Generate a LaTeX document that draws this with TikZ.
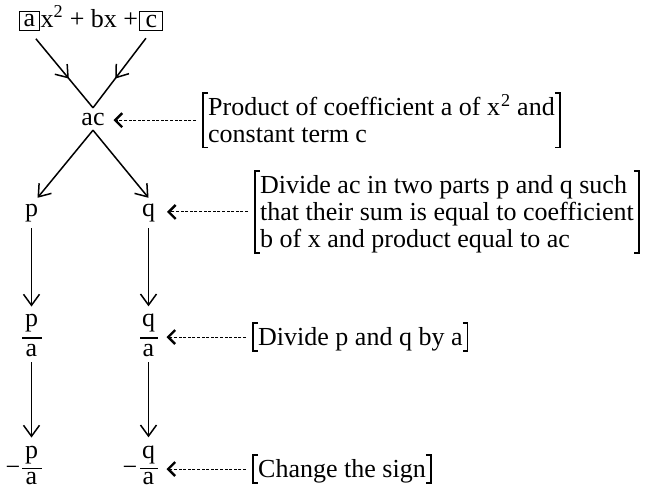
\documentclass[tikz,border=0pt]{standalone}
\usepackage{fontspec}
\setmainfont{Liberation Serif}
\usetikzlibrary{arrows.meta,decorations.markings,calc}
\begin{document}
\begin{tikzpicture}[x=1pt,y=-1pt,
  every node/.style={font=\fontsize{26}{27}\selectfont, inner sep=0pt},
  barb/.tip={Straight Barb[length=11pt,width=16pt,line width=1.5pt]},
  chev/.tip={Straight Barb[length=7pt,width=14pt,line width=2.4pt]},
  conn/.style={line width=1.5pt, -barb},
  midarr/.style={line width=1.5pt, postaction={decorate},
    decoration={markings, mark=at position 0.62 with {\arrow{barb}}}},
  dasharr/.style={line width=1pt, dash pattern=on 3pt off 1.6pt, -chev, shorten <=7pt},
  boxed/.style={draw, line width=1.1pt, minimum height=19pt},
  note/.style={anchor=north west, align=left, inner xsep=5pt, inner ysep=0pt},
  single/.style={minimum height=30pt, outer xsep=12pt},
  fbar/.style={fill=black, minimum height=1.2pt, minimum width=#1, outer xsep=9pt},
  bracket/.style={line width=1.3pt}
]
\useasboundingbox (0,0) rectangle (652,490);

% top expression
\node[boxed, minimum width=20pt] (boxa) at (29.5,21) {a};
\node[anchor=base west, inner xsep=1pt] (expr) at (39.5,27) {x\textsuperscript{2} + bx +};
\node[boxed, minimum width=23pt, anchor=west] (boxc) at (expr.east |- boxa.center) {c};

\node[minimum height=22pt, outer xsep=9pt] (ac) at (93,119) {ac};

\node[single] (p) at (31.5,213) {p};
\node[single] (q) at (148.5,213) {q};

% fractions p/a, q/a
\node[anchor=base] (pan) at (31.5,326) {p};
\node[fbar=20pt] (pab) at (31.5,338) {};
\node[anchor=base] (pad) at (31.5,356) {a};
\node[anchor=base] (qan) at (148.5,326) {q};
\node[fbar=18pt] (qab) at (148.5,338) {};
\node[anchor=base] (qad) at (148.5,356) {a};

% -p/a, -q/a
\node[anchor=base] (npan) at (31.5,458) {p};
\node[fbar=20pt] (npab) at (31.5,468.5) {};
\node[anchor=base] (npad) at (31.5,484) {a};
\node[anchor=base] (mp) at (13,475) {−};
\node[anchor=base] (nqan) at (148.5,458) {q};
\node[fbar=18pt] (nqab) at (148.5,468.5) {};
\node[anchor=base] (nqad) at (148.5,484) {a};
\node[anchor=base] (mq) at (130,475) {−};

% notes
\node[note] (n1) at (203,93) {\rule{0pt}{22pt}Product of coefficient a of x\kern1pt\textsuperscript{2} and\\constant term c\rule[-5pt]{0pt}{5pt}};
\node[note] (n2) at (255,171) {\rule{0pt}{22pt}Divide ac in two parts p and q such\\that their sum is equal to coefficient\\b of x and product equal to ac\rule[-5pt]{0pt}{5pt}};
\node[note] (n3) at (253,323) {\rule{0pt}{22pt}Divide p and q by a\rule[-5pt]{0pt}{5pt}};
\node[note] (n4) at (253,455) {\rule{0pt}{22pt}Change the sign\rule[-5pt]{0pt}{5pt}};

\foreach \n in {n1,n2,n3,n4}{
  \draw[bracket] ([xshift=5pt]\n.north west) -- (\n.north west) -- (\n.south west) -- ([xshift=5pt]\n.south west);
  \draw[bracket] ([xshift=-5pt]\n.north east) -- (\n.north east) -- (\n.south east) -- ([xshift=-5pt]\n.south east);
}

% connectors
\draw[midarr, shorten <=10pt] (boxa.south) -- (ac.north);
\draw[midarr, shorten <=9pt] (boxc.south) -- (ac.north);
\draw[conn] (ac.south) -- ([xshift=6pt]p.north);
\draw[conn] (ac.south) -- (q.north);
\draw[conn, shorten >=7pt] (p.south) -- (pan.north);
\draw[conn, shorten >=7pt] (q.south) -- (qan.north);
\draw[conn, shorten <=6pt, shorten >=8pt] (pad.south) -- (npan.north);
\draw[conn, shorten <=6pt, shorten >=8pt] (qad.south) -- (nqan.north);

\draw[dasharr] (n1.west) -- (n1.west -| ac.east);
\draw[dasharr] (n2.west) -- (n2.west -| q.east);
\draw[dasharr] (n3.west) -- (n3.west -| qab.east);
\draw[dasharr] (n4.west) -- (n4.west -| nqab.east);
\end{tikzpicture}
\end{document}
